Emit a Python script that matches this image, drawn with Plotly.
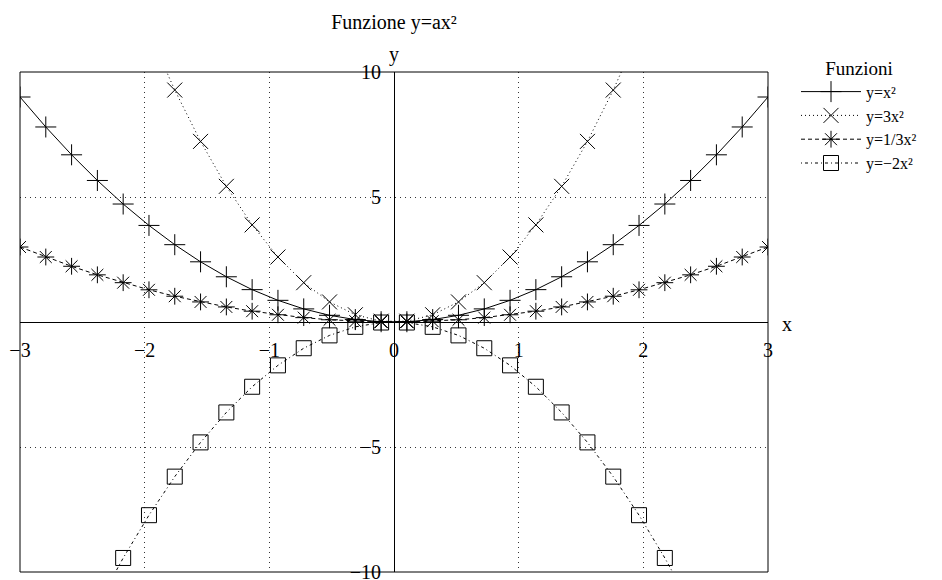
import plotly.graph_objects as go

x_vals = [-3.0, -2.7931, -2.5862, -2.3793, -2.1724, -1.9655, -1.7586, -1.5517, -1.3448, -1.1379,
          -0.931, -0.7241, -0.5172, -0.3103, -0.1034, 0.1034, 0.3103, 0.5172, 0.7241, 0.931,
          1.1379, 1.3448, 1.5517, 1.7586, 1.9655, 2.1724, 2.3793, 2.5862, 2.7931, 3.0]
y_x2 = [9.0, 7.801, 6.688, 5.661, 4.719, 3.863, 3.093, 2.408, 1.809, 1.295,
        0.867, 0.524, 0.268, 0.096, 0.011, 0.011, 0.096, 0.268, 0.524, 0.867,
        1.295, 1.809, 2.408, 3.093, 3.863, 4.719, 5.661, 6.688, 7.801, 9.0]
y_3x2 = [27.0, 23.404, 20.065, 16.983, 14.158, 11.590, 9.278, 7.224, 5.426, 3.885,
         2.600, 1.573, 0.803, 0.289, 0.032, 0.032, 0.289, 0.803, 1.573, 2.600,
         3.885, 5.426, 7.224, 9.278, 11.590, 14.158, 16.983, 20.065, 23.404, 27.0]
y_x2_3 = [3.0, 2.600, 2.229, 1.887, 1.573, 1.288, 1.031, 0.803, 0.603, 0.432,
          0.289, 0.175, 0.089, 0.032, 0.004, 0.004, 0.032, 0.089, 0.175, 0.289,
          0.432, 0.603, 0.803, 1.031, 1.288, 1.573, 1.887, 2.229, 2.600, 3.0]
y_m2x2 = [-18.0, -15.603, -13.377, -11.322, -9.439, -7.727, -6.185, -4.816, -3.617, -2.590,
          -1.734, -1.049, -0.535, -0.193, -0.021, -0.021, -0.193, -0.535, -1.049, -1.734,
          -2.590, -3.617, -4.816, -6.185, -7.727, -9.439, -11.322, -13.377, -15.603, -18.0]

names = ["y=x²", "y=3x²", "y=1/3x²", "y=−2x²"]
x_ticks = [-3, -2, -1, 0, 1, 2, 3]
y_ticks = [-10, -5, 5, 10]

FONT = "Liberation Serif, Times New Roman, serif"

fig = go.Figure()
series = [
    (y_x2, "solid", "cross-thin-open", 15),
    (y_3x2, "1px,3px", "x-thin-open", 15),
    (y_x2_3, "4px,3px", "asterisk-open", 14),
    (y_m2x2, "1px,3px,3px,3px", "square-open", 15),
]
for (ys, dash, sym, sz), nm in zip(series, names):
    fig.add_trace(go.Scatter(
        x=x_vals, y=ys, name=nm, mode="lines+markers",
        line=dict(color="black", width=1, dash=dash),
        marker=dict(symbol=sym, size=sz, color="black", line=dict(width=1, color="black")),
        cliponaxis=True,
    ))

axis_common = dict(anchor="free", position=0.5, showline=True, linecolor="black",
                   linewidth=1, showgrid=True, gridcolor="#333", griddash="1px,4px",
                   gridwidth=1, zeroline=False, ticks="", ticklen=0, automargin=False,
                   tickfont=dict(size=20, family=FONT))

# page body adds an 8px offset; margins are chosen so the plot sits at x 20-768, y 72-572
fig.update_layout(
    width=942, height=580,
    margin=dict(l=12, r=182, t=64, b=16, autoexpand=False),
    paper_bgcolor="white", plot_bgcolor="white",
    font=dict(family=FONT, size=20, color="black"),
    title=dict(text="Funzione y=ax²", x=386 / 942, xanchor="center",
               y=1 - 14 / 580, yanchor="middle", font=dict(size=20)),
    xaxis=dict(range=[-3, 3], tickvals=x_ticks, ticklabelstandoff=10, **axis_common),
    yaxis=dict(range=[-10, 10], tickvals=y_ticks, ticklabelstandoff=9, **axis_common),
    legend=dict(x=(796 - 20) / 748, xanchor="left", y=1 + 22 / 500, yanchor="top",
                title=dict(text="Funzioni", font=dict(size=19), side="top center"),
                font=dict(size=16), tracegroupgap=0, itemwidth=60,
                bgcolor="rgba(0,0,0,0)"),
    shapes=[dict(type="rect", xref="paper", yref="paper", x0=0, x1=1, y0=0, y1=1,
                 line=dict(color="black", width=1))],
    annotations=[
        dict(text="x", xref="paper", yref="paper", x=1 + 12 / 748, y=0.5, xanchor="left",
             yanchor="middle", yshift=-2, showarrow=False, font=dict(size=20)),
        dict(text="y", xref="paper", yref="paper", x=0.5, y=1.0, xanchor="center",
             yanchor="bottom", yshift=4, showarrow=False, font=dict(size=20)),
    ],
)
fig.write_html("out.html")
